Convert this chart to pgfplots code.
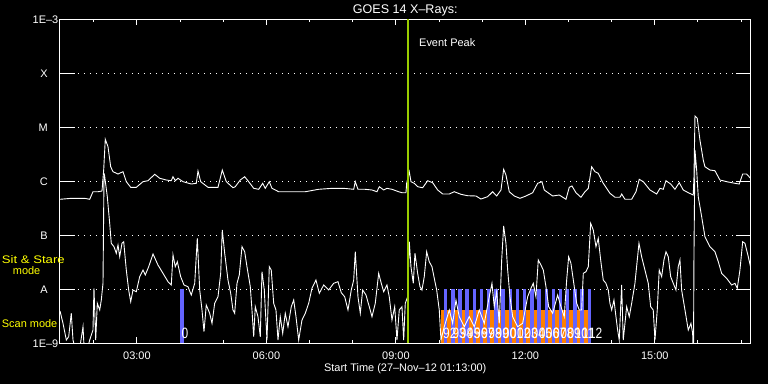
\documentclass[border=0pt]{standalone}
\usepackage{fontspec}
\setmainfont{Liberation Sans}
\usepackage{graphicx}
\usepackage{pgfplots}
\pgfplotsset{compat=1.18}
\usepackage{pgfplotstable}
\definecolor{scanblue}{RGB}{100,100,255}
\definecolor{scanorange}{RGB}{255,128,0}
\definecolor{peakgreen}{RGB}{153,204,0}
\definecolor{labyellow}{RGB}{255,255,0}

% GOES 14 long channel (1-8 A): time [h], log10 flux [W/m^2]
\pgfplotstableread{
t L
1.2167 -6.333
1.478 -6.315
1.789 -6.315
1.905 -6.333
1.981 -6.193
2.097 -6.193
2.190 -6.180
2.229 -5.791
2.266 -5.222
2.329 -5.359
2.391 -5.730
2.445 -5.822
2.561 -5.865
2.676 -5.822
2.753 -6.007
2.855 -6.111
2.985 -6.111
3.140 -6.007
3.256 -5.989
3.411 -5.870
3.527 -5.944
3.680 -5.976
3.795 -5.989
3.835 -5.915
3.888 -5.989
3.951 -5.944
4.067 -6.007
4.259 -6.050
4.375 -6.037
4.414 -5.809
4.477 -6.007
4.646 -6.111
4.878 -6.111
4.977 -5.791
5.070 -6.007
5.225 -6.119
5.278 -6.100
5.394 -5.976
5.496 -5.915
5.589 -6.007
5.705 -6.130
5.821 -6.148
5.913 -6.037
5.973 -6.130
6.066 -6.007
6.129 -6.130
6.284 -6.193
6.592 -6.193
6.900 -6.193
7.211 -6.148
7.519 -6.130
7.790 -6.130
8.022 -6.148
8.059 -6.007
8.121 -6.148
8.290 -6.148
8.446 -6.161
8.561 -6.193
8.615 -6.100
8.717 -6.161
8.793 -6.130
8.909 -6.148
9.064 -6.193
9.141 -6.211
9.233 -6.211
9.250 -6.037
9.310 -5.822
9.349 -6.007
9.426 -6.037
9.504 -6.100
9.620 -6.119
9.736 -5.989
9.852 -6.026
9.968 -6.161
10.084 -6.235
10.237 -6.235
10.352 -6.193
10.508 -6.241
10.663 -6.267
10.855 -6.272
10.971 -6.328
11.126 -6.285
11.242 -6.193
11.335 -6.272
11.435 -6.161
11.497 -5.778
11.550 -5.883
11.627 -6.193
11.743 -6.272
11.875 -6.315
12.014 -6.272
12.169 -6.211
12.285 -6.037
12.385 -6.007
12.438 -6.161
12.632 -6.272
12.786 -6.254
12.941 -6.333
13.017 -6.111
13.080 -6.087
13.172 -6.211
13.288 -6.296
13.381 -6.193
13.458 -6.130
13.536 -5.730
13.612 -5.822
13.689 -5.852
13.805 -6.037
13.960 -6.222
14.076 -6.296
14.192 -6.296
14.231 -6.235
14.308 -6.333
14.463 -6.333
14.563 -6.193
14.639 -5.963
14.732 -6.007
14.887 -6.161
15.042 -6.235
15.119 -6.130
15.195 -6.148
15.258 -5.989
15.367 -6.050
15.466 -6.148
15.566 -6.026
15.659 -6.161
15.775 -6.211
15.890 -6.254
15.907 -5.915
15.930 -4.791
15.983 -4.833
16.045 -5.235
16.122 -5.606
16.161 -5.730
16.277 -5.791
16.393 -5.804
16.508 -5.976
16.664 -6.007
16.856 -6.037
16.956 -6.050
17.035 -5.865
17.127 -5.865
17.2167 -5.944
}\longch

% GOES 14 short channel (0.5-4 A): time [h], log10 flux [W/m^2]
\pgfplotstableread{
t L
1.2167 -8.40
1.286 -8.630
1.363 -8.939
1.418 -8.878
1.478 -8.444
1.518 -8.939
1.634 -9.3
1.750 -8.693
1.789 -9.3
1.905 -8.939
1.981 -8.754
2.004 -7.981
2.044 -8.939
2.081 -8.259
2.137 -8.383
2.174 -8.198
2.213 -7.889
2.236 -5.915
2.248 -5.883
2.313 -6.285
2.368 -6.778
2.405 -7.148
2.468 -7.211
2.521 -7.333
2.561 -7.180
2.600 -7.396
2.653 -7.148
2.693 -7.119
2.753 -7.643
2.808 -8.013
2.855 -8.230
2.908 -8.013
2.985 -8.044
3.063 -7.767
3.140 -7.643
3.193 -7.735
3.272 -7.581
3.372 -7.346
3.487 -7.550
3.603 -7.704
3.719 -7.859
3.795 -7.920
3.835 -7.365
3.888 -7.581
3.935 -7.489
4.013 -7.767
4.090 -7.920
4.182 -7.952
4.259 -8.106
4.338 -7.889
4.398 -7.056
4.454 -8.013
4.507 -8.383
4.553 -8.785
4.606 -8.291
4.685 -8.444
4.739 -8.630
4.801 -8.259
4.878 -8.137
4.940 -7.704
4.977 -6.902
5.033 -7.333
5.109 -7.828
5.172 -8.074
5.225 -8.383
5.264 -8.444
5.318 -7.889
5.371 -7.735
5.434 -7.211
5.496 -7.304
5.549 -7.581
5.626 -7.952
5.665 -8.383
5.705 -8.878
5.742 -8.322
5.804 -8.507
5.858 -8.878
5.897 -7.674
5.950 -8.013
6.013 -8.939
6.066 -7.581
6.112 -7.643
6.168 -8.259
6.221 -8.383
6.268 -8.939
6.321 -8.507
6.377 -8.815
6.437 -8.444
6.499 -8.693
6.576 -8.322
6.632 -8.198
6.685 -8.507
6.747 -8.939
6.824 -8.569
6.900 -8.444
6.979 -8.259
7.055 -7.981
7.148 -7.828
7.225 -8.074
7.327 -7.920
7.442 -8.013
7.558 -7.889
7.658 -7.859
7.734 -8.063
7.813 -8.137
7.890 -8.383
7.966 -8.013
8.022 -7.828
8.059 -7.304
8.121 -8.137
8.175 -8.444
8.230 -8.013
8.307 -8.106
8.383 -8.322
8.446 -8.507
8.522 -8.259
8.601 -7.704
8.661 -7.889
8.717 -8.044
8.793 -7.920
8.846 -8.137
8.909 -8.569
8.972 -8.322
9.025 -8.939
9.078 -8.383
9.141 -8.322
9.180 -8.939
9.217 -8.259
9.273 -8.137
9.310 -7.119
9.349 -7.581
9.403 -7.889
9.442 -7.333
9.504 -7.704
9.558 -7.952
9.604 -8.013
9.657 -7.767
9.713 -7.304
9.773 -7.489
9.836 -7.581
9.889 -7.796
9.945 -8.013
10.005 -8.383
10.044 -8.939
10.121 -8.693
10.237 -8.383
10.315 -8.630
10.392 -8.198
10.468 -8.507
10.584 -8.693
10.700 -8.507
10.816 -8.693
10.932 -8.383
11.048 -8.630
11.163 -8.137
11.226 -7.889
11.279 -8.322
11.335 -8.044
11.395 -8.630
11.451 -7.457
11.497 -6.828
11.550 -7.148
11.590 -7.643
11.643 -8.137
11.706 -8.507
11.821 -8.693
11.937 -8.630
12.053 -8.137
12.130 -7.981
12.183 -7.889
12.245 -8.137
12.299 -7.457
12.361 -7.550
12.415 -7.643
12.477 -7.952
12.540 -8.322
12.632 -8.444
12.748 -8.106
12.825 -8.322
12.901 -8.507
12.957 -7.828
13.003 -7.396
13.056 -7.519
13.133 -7.952
13.189 -8.259
13.249 -8.383
13.304 -8.383
13.342 -7.704
13.404 -7.674
13.458 -7.581
13.513 -6.778
13.573 -6.902
13.636 -7.211
13.689 -7.056
13.745 -7.457
13.805 -7.828
13.867 -7.889
13.921 -8.013
13.960 -8.259
14.000 -8.383
14.053 -8.198
14.099 -8.507
14.138 -8.754
14.175 -8.939
14.231 -7.920
14.268 -8.939
14.347 -8.322
14.407 -8.507
14.463 -8.259
14.539 -7.889
14.593 -7.457
14.632 -7.148
14.694 -7.396
14.771 -7.643
14.848 -7.889
14.903 -8.322
14.963 -8.383
15.003 -8.939
15.056 -8.383
15.102 -7.643
15.158 -7.767
15.211 -7.457
15.258 -7.304
15.311 -7.396
15.367 -7.767
15.427 -7.889
15.489 -8.013
15.542 -7.581
15.582 -7.457
15.621 -8.013
15.698 -8.383
15.775 -8.754
15.837 -8.630
15.876 -8.815
15.895 -9.3
15.907 -7.333
15.930 -5.420
15.969 -5.791
16.006 -6.285
16.085 -6.656
16.161 -7.026
16.277 -7.211
16.393 -7.304
16.470 -7.489
16.548 -7.704
16.664 -7.796
16.780 -7.920
16.856 -7.889
16.910 -7.981
16.972 -7.643
17.035 -7.119
17.088 -7.148
17.165 -7.396
17.2167 -7.581
}\shortch

\begin{document}
\begin{tikzpicture}
\fill[black] (-60bp,-40.7bp) rectangle (708bp,343.3bp);
\path[use as bounding box] (-60bp,-40.7bp) rectangle (708bp,343.3bp);
\begin{axis}[
  scale only axis, width=690.5bp, height=324bp,
  xmin=1.2167, xmax=17.2167,
  ymode=log, ymin=1e-9, ymax=1e-3,
  axis line style={white, line width=1bp},
  clip mode=individual,
  tick align=inside,
  xtick={3,6,9,12,15},
  xticklabels={03:00,06:00,09:00,12:00,15:00},
  minor xtick={2,4,5,7,8,10,11,13,14,16,17},
  major tick length=6bp, minor tick length=3bp,
  xtick style={white, line width=1bp},
  xticklabel style={white, font=\fontsize{11}{13}\selectfont, inner sep=0pt, yshift=-8.4bp, anchor=north},
  ytick={1e-9,1e-8,1e-7,1e-6,1e-5,1e-4,1e-3},
  yticklabels={1E--9, A\rule{10.5bp}{0pt}, B\rule{10.5bp}{0pt}, C\rule{10.5bp}{0pt}, M\rule{10.5bp}{0pt}, X\rule{10.5bp}{0pt}, 1E--3},
  yminorticks=false,
  ytick style={white, line width=1bp, /pgfplots/major tick length=15bp},
  yticklabel style={white, font=\fontsize{11}{13}\selectfont, inner sep=1.5bp, anchor=east},
  ymajorgrids,
  grid style={white, line width=0.9bp, dash pattern=on 0.9bp off 5.1bp},
]
% scan-mode region
\addplot[fill=scanorange, draw=none] coordinates {(10.037,1e-9) (10.037,4.14e-9) (13.497,4.14e-9) (13.497,1e-9)} -- cycle;
% sit & stare observations
\addplot[scanblue, line width=3.4bp, unbounded coords=jump] coordinates {
(4.043,1e-9) (4.043,1e-8) (4.1,nan)
(10.153,1e-9) (10.153,1e-8) (10.2,nan)
(10.319,1e-9) (10.319,1e-8) (10.4,nan)
(10.486,1e-9) (10.486,1e-8) (10.5,nan)
(10.652,1e-9) (10.652,1e-8) (10.7,nan)
(10.819,1e-9) (10.819,1e-8) (10.9,nan)
(10.985,1e-9) (10.985,1e-8) (11.0,nan)
(11.151,1e-9) (11.151,1e-8) (11.2,nan)
(11.318,1e-9) (11.318,1e-8) (11.4,nan)
(11.484,1e-9) (11.484,1e-8) (11.5,nan)
(11.651,1e-9) (11.651,1e-8) (11.7,nan)
(11.817,1e-9) (11.817,1e-8) (11.9,nan)
(11.983,1e-9) (11.983,1e-8) (12.0,nan)
(12.150,1e-9) (12.150,1e-8) (12.2,nan)
(12.316,1e-9) (12.316,1e-8) (12.4,nan)
(12.483,1e-9) (12.483,1e-8) (12.5,nan)
(12.649,1e-9) (12.649,1e-8) (12.7,nan)
(12.815,1e-9) (12.815,1e-8) (12.9,nan)
(12.982,1e-9) (12.982,1e-8) (13.0,nan)
(13.148,1e-9) (13.148,1e-8) (13.2,nan)
(13.315,1e-9) (13.315,1e-8) (13.4,nan)
(13.481,1e-9) (13.481,1e-8)
};
\addplot[white, line width=0.9bp] table[x=t, y expr=10^(\thisrow{L})] {\longch};
\addplot[white, line width=0.9bp] table[x=t, y expr=10^(\thisrow{L})] {\shortch};
\addplot[peakgreen, line width=2.3bp] coordinates {(9.273,1e-9) (9.273,1e-3)};
\tikzset{lab/.style={white, anchor=base west, inner sep=0pt, font=\fontsize{15}{15}\selectfont}}
\node[lab] at (axis cs:4.033,1.24e-9) {\scalebox{0.8}[1]{0}};
\node[lab] at (axis cs:10.090,1.24e-9) {\scalebox{0.8}[1]{92}};
\node[lab] at (axis cs:10.309,1.24e-9) {\scalebox{0.8}[1]{93}};
\node[lab] at (axis cs:10.476,1.24e-9) {\scalebox{0.8}[1]{94}};
\node[lab] at (axis cs:10.642,1.24e-9) {\scalebox{0.8}[1]{95}};
\node[lab] at (axis cs:10.809,1.24e-9) {\scalebox{0.8}[1]{96}};
\node[lab] at (axis cs:10.975,1.24e-9) {\scalebox{0.8}[1]{97}};
\node[lab] at (axis cs:11.141,1.24e-9) {\scalebox{0.8}[1]{98}};
\node[lab] at (axis cs:11.308,1.24e-9) {\scalebox{0.8}[1]{99}};
\node[lab] at (axis cs:11.474,1.24e-9) {\scalebox{0.8}[1]{00}};
\node[lab] at (axis cs:11.641,1.24e-9) {\scalebox{0.8}[1]{01}};
\node[lab] at (axis cs:11.807,1.24e-9) {\scalebox{0.8}[1]{02}};
\node[lab] at (axis cs:11.973,1.24e-9) {\scalebox{0.8}[1]{03}};
\node[lab] at (axis cs:12.140,1.24e-9) {\scalebox{0.8}[1]{04}};
\node[lab] at (axis cs:12.306,1.24e-9) {\scalebox{0.8}[1]{05}};
\node[lab] at (axis cs:12.473,1.24e-9) {\scalebox{0.8}[1]{06}};
\node[lab] at (axis cs:12.639,1.24e-9) {\scalebox{0.8}[1]{07}};
\node[lab] at (axis cs:12.805,1.24e-9) {\scalebox{0.8}[1]{08}};
\node[lab] at (axis cs:12.972,1.24e-9) {\scalebox{0.8}[1]{09}};
\node[lab] at (axis cs:13.138,1.24e-9) {\scalebox{0.8}[1]{10}};
\node[lab] at (axis cs:13.305,1.24e-9) {\scalebox{0.8}[1]{11}};
\node[lab] at (axis cs:13.471,1.24e-9) {\scalebox{0.8}[1]{12}};
\end{axis}
\node[white, anchor=base, inner sep=0pt, font=\fontsize{12.6}{14}\selectfont] at (345.25bp,329.3bp) {GOES 14 X--Rays:};
\node[white, anchor=base, inner sep=0pt, font=\fontsize{11}{13}\selectfont] at (345.25bp,-28.4bp) {Start Time (27--Nov--12 01:13:00)};
\node[white, anchor=base west, inner sep=0pt, font=\fontsize{11}{13}\selectfont] at (359bp,296.6bp) {Event Peak};
\node[labyellow, anchor=base west, inner sep=0pt, font=\fontsize{11}{13}\selectfont] at (-58.3bp,80bp) {\scalebox{1.2}[1]{Sit \& Stare}};
\node[labyellow, anchor=base west, inner sep=0pt, font=\fontsize{11}{13}\selectfont] at (-47.3bp,68.3bp) {mode};
\node[labyellow, anchor=base west, inner sep=0pt, font=\fontsize{11}{13}\selectfont] at (-58.3bp,16bp) {Scan mode};
\end{tikzpicture}
\end{document}
